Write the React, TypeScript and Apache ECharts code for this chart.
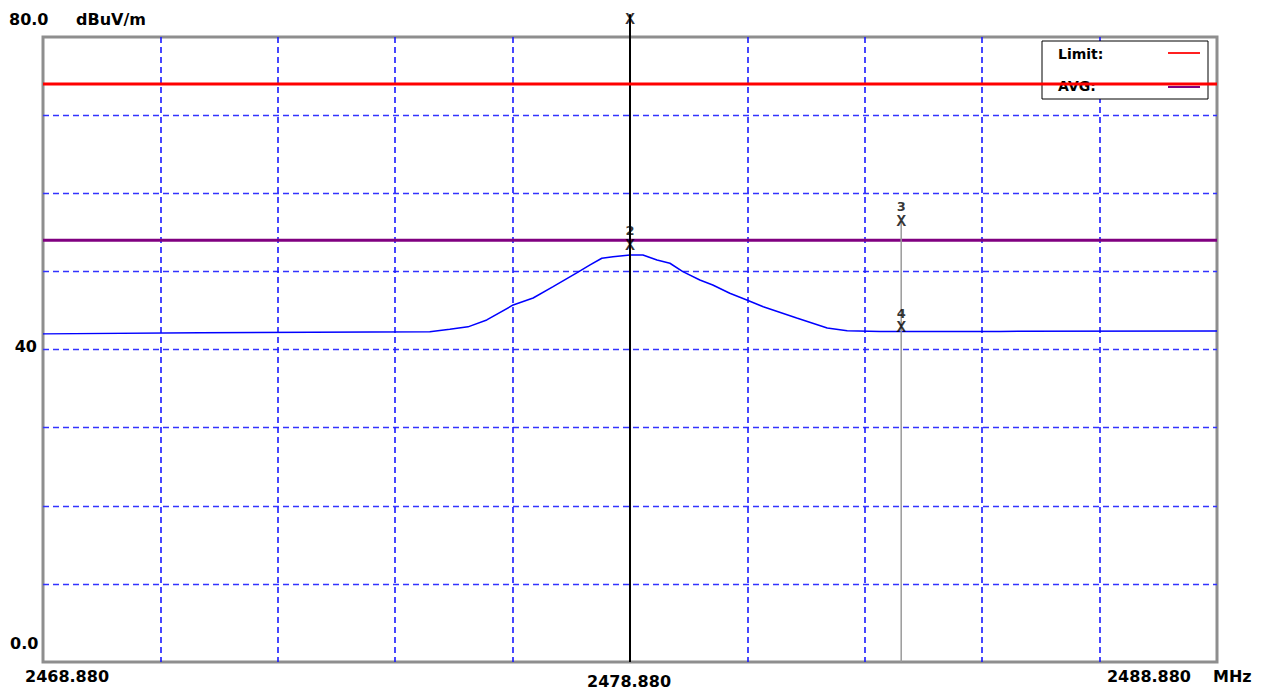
import React, { useEffect, useRef } from "react";
import * as echarts from "echarts";

// ---- data ----
const startMHz = 2468.88;
const stopMHz = 2488.88;
const stepMHz = 2;
const yMin = 0;
const yMax = 80;
const yStep = 10;

const traceFreqMHz = [
  2468.88, 2471.55, 2475.47, 2475.81, 2476.12, 2476.44, 2476.89, 2477.23, 2477.57, 2477.98,
  2478.2, 2478.4, 2478.59, 2478.88, 2479.1, 2479.34, 2479.56, 2479.78, 2480.07, 2480.29,
  2480.58, 2480.87, 2481.15, 2481.72, 2482.24, 2482.58, 2483.14, 2485.18, 2488.88,
];
const traceLevel = [
  42.0, 42.15, 42.28, 42.58, 42.9, 43.78, 45.7, 46.59, 48.04, 49.83,
  50.82, 51.68, 51.88, 52.1, 52.1, 51.46, 51.04, 49.96, 48.9, 48.26,
  47.2, 46.34, 45.48, 44.03, 42.75, 42.41, 42.3, 42.32, 42.37,
];

const limitLevel = 74;
const avgLevel = 54;

const markerLabels = ["", "2", "3", "4"];
const markerFreqMHz = [2478.88, 2478.88, 2483.5, 2483.5];
const markerLevel = [82.2, 53.25, 56.38, 42.69];

const xTickLabels = ["2468.880", "2478.880", "2488.880"];
const yTickLabels = ["80.0", "40", "0.0"];
const yUnit = "dBuV/m";
const xUnit = "MHz";
const legendNames = ["Limit:", "AVG:"];

const FONT = "'DejaVu Sans', sans-serif";

export default function App() {
  const ref = useRef<HTMLDivElement>(null);

  useEffect(() => {
    if (!ref.current) return;
    const chart = echarts.init(ref.current, null, { renderer: "svg" });
    const off = (f: number) => +(f - startMHz).toFixed(4);
    const span = +(stopMHz - startMHz).toFixed(4);

    const trace = traceFreqMHz.map((f, i) => [off(f), traceLevel[i]]);
    const xMarks = markerFreqMHz.map((f, i) => [off(f), markerLevel[i]]);
    const numMarks = markerFreqMHz
      .map((f, i) => ({ value: [off(f), markerLevel[i]], name: markerLabels[i] }))
      .filter((m) => m.name);

    const txt = (text: string, x: number, y: number, align: string, size = 16) => ({
      type: "text",
      z: 5,
      x,
      y,
      style: {
        text,
        fill: "#000",
        font: `bold ${size}px ${FONT}`,
        textAlign: align,
        textVerticalAlign: "middle",
      },
    });

    chart.setOption({
      animation: false,
      backgroundColor: "#ffffff",
      grid: {
        left: 43,
        top: 37,
        width: 1174,
        height: 625,
        show: true,
        borderColor: "#8e8e8e",
        borderWidth: 3,
        backgroundColor: "#ffffff",
      },
      xAxis: {
        type: "value",
        min: 0,
        max: span,
        interval: stepMHz,
        axisLine: { show: false },
        axisTick: { show: false },
        axisLabel: { show: false },
        splitLine: {
          show: true,
          showMinLine: false,
          showMaxLine: false,
          lineStyle: { color: "#1a1aff", width: 1.6, type: [6, 4] },
        },
      },
      yAxis: {
        type: "value",
        min: yMin,
        max: yMax,
        interval: yStep,
        axisLine: { show: false },
        axisTick: { show: false },
        axisLabel: { show: false },
        splitLine: {
          show: true,
          showMinLine: false,
          showMaxLine: false,
          lineStyle: { color: "#3333ff", width: 1.4, type: [6, 4] },
        },
      },
      graphic: [
        {
          type: "rect",
          z: 1,
          shape: { x: 1042, y: 41, width: 166, height: 58 },
          style: { fill: "#ffffff", stroke: "#000000", lineWidth: 1 },
        },
        txt(legendNames[0], 1058, 54, "left", 14),
        txt(legendNames[1], 1058, 86, "left", 14),
        {
          type: "line",
          z: 5,
          shape: { x1: 1168, y1: 53, x2: 1200, y2: 53 },
          style: { stroke: "#ff2020", lineWidth: 2 },
        },
        {
          type: "line",
          z: 1,
          shape: { x1: 1168, y1: 87, x2: 1200, y2: 87 },
          style: { stroke: "#800080", lineWidth: 2 },
        },
        txt(yTickLabels[0], 9, 19, "left"),
        txt(yUnit, 76, 19, "left"),
        txt(yTickLabels[1], 37, 346, "right"),
        txt(yTickLabels[2], 10, 643, "left"),
        txt(xTickLabels[0], 25, 676, "left"),
        txt(xTickLabels[1], 629, 681, "center"),
        txt(xTickLabels[2], 1191, 676, "right"),
        txt(xUnit, 1213, 676, "left"),
      ],
      series: [
        {
          type: "line",
          data: trace,
          symbol: "none",
          silent: true,
          z: 3,
          lineStyle: { color: "#0000ff", width: 1.5 },
        },
        {
          type: "line",
          data: [[0, avgLevel], [span, avgLevel]],
          symbol: "none",
          silent: true,
          z: 4,
          lineStyle: { color: "#800080", width: 3 },
        },
        {
          type: "line",
          data: [[0, limitLevel], [span, limitLevel]],
          symbol: "none",
          silent: true,
          z: 6,
          lineStyle: { color: "#ff0000", width: 3 },
        },
        {
          type: "line",
          data: [
            [off(markerFreqMHz[0]), markerLevel[0] + 0.7],
            [off(markerFreqMHz[0]), yMin],
          ],
          symbol: "none",
          silent: true,
          clip: false,
          z: 5,
          lineStyle: { color: "#000000", width: 2 },
        },
        {
          type: "line",
          data: [
            [off(markerFreqMHz[2]), markerLevel[2]],
            [off(markerFreqMHz[2]), yMin],
          ],
          symbol: "none",
          silent: true,
          clip: false,
          z: 5,
          lineStyle: { color: "#9a9a9a", width: 1.5 },
        },
        {
          type: "scatter",
          data: xMarks,
          symbol: "circle",
          symbolSize: 0,
          itemStyle: { color: "rgba(0,0,0,0)" },
          clip: false,
          silent: true,
          z: 7,
          label: {
            show: true,
            position: "inside",
            formatter: "X",
            color: "#000",
            fontFamily: "'Liberation Mono', monospace",
            fontWeight: "bold",
            fontSize: 16,
            lineHeight: 12,
          },
        },
        {
          type: "scatter",
          data: numMarks,
          symbol: "circle",
          symbolSize: 0,
          itemStyle: { color: "rgba(0,0,0,0)" },
          clip: false,
          silent: true,
          z: 7,
          label: {
            show: true,
            position: "inside",
            formatter: "{b}",
            offset: [0, -15],
            color: "#000",
            fontFamily: FONT,
            fontWeight: "bold",
            fontSize: 13,
            lineHeight: 12,
          },
        },
      ],
    });

    return () => chart.dispose();
  }, []);

  return (
    <div
      ref={ref}
      style={{
        position: "fixed",
        left: 0,
        top: 0,
        width: 1268,
        height: 692,
        background: "#fff",
      }}
    />
  );
}
